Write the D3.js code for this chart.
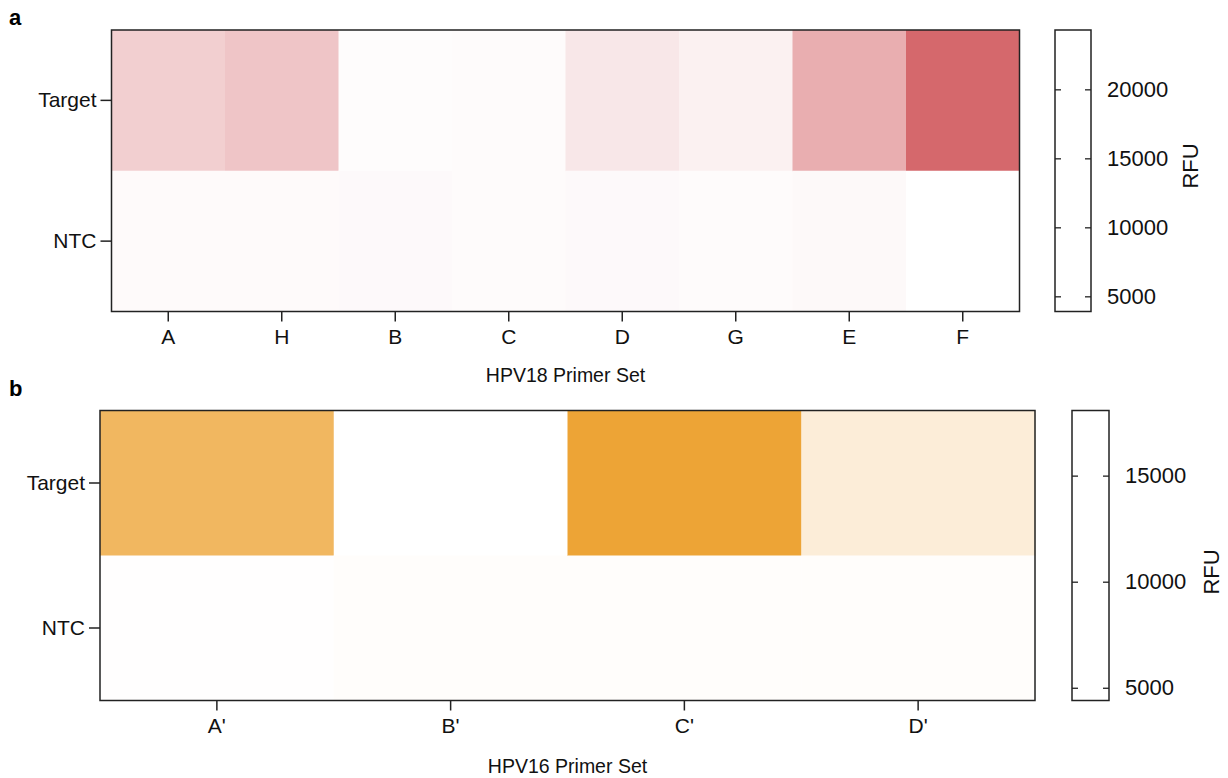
<!DOCTYPE html>
<html>
<head>
<meta charset="utf-8">
<script src="https://cdn.jsdelivr.net/npm/d3@7"></script>
<style>
  html, body { margin: 0; padding: 0; background: #fff; }
  svg { display: block; font-family: "Liberation Sans", Arial, sans-serif; }
</style>
</head>
<body>
<svg width="1228" height="778"></svg>
<script>
// panel a : HPV18
const setsA = ["A", "H", "B", "C", "D", "G", "E", "F"];
const targetA = [10400, 11700, 4300, 4500, 7100, 5800, 14800, 24300];
const ntcA = [4550, 4600, 4650, 4450, 4650, 4500, 4750, 3900];
const rangeA = [3900, 24300];
const ticksA = [5000, 10000, 15000, 20000];

// panel b : HPV16
const setsB = ["A'", "B'", "C'", "D'"];
const targetB = [15200, 4400, 18070, 7050];
const ntcB = [4480, 4650, 4650, 4650];
const rangeB = [4400, 18070];
const ticksB = [5000, 10000, 15000];

const rows = ["Target", "NTC"];

let svg = d3.select("svg");

function heatmap(opt) {
    let g = svg.append("g");
    let x = d3.scaleBand().domain(opt.sets).range([opt.x0, opt.x1]);
    let y = d3.scaleBand().domain(rows).range([opt.y0, opt.y1]);
    let color = d3.scaleLinear()
        .domain(opt.range)
        .range(["#ffffff", opt.hot])
        .interpolate(d3.interpolateRgb);

    let cells = [];
    opt.sets.forEach((s, i) => {
        cells.push({set: s, row: "Target", v: opt.target[i]});
        cells.push({set: s, row: "NTC", v: opt.ntc[i]});
    });

    g.selectAll(".cell")
        .data(cells)
        .enter()
        .append("rect")
        .attr("class", "cell")
        .attr("x", d => x(d.set))
        .attr("y", d => y(d.row))
        .attr("width", x.bandwidth() + 0.5)
        .attr("height", y.bandwidth() + 0.5)
        .attr("fill", d => color(d.v));

    g.append("rect")
        .attr("x", opt.x0).attr("y", opt.y0)
        .attr("width", opt.x1 - opt.x0).attr("height", opt.y1 - opt.y0)
        .attr("fill", "none")
        .attr("stroke", "#222")
        .attr("stroke-width", 1.5);

    let xa = g.append("g")
        .attr("transform", `translate(0,${opt.y1})`)
        .call(d3.axisBottom(x).tickSizeInner(10).tickSizeOuter(0).tickPadding(8));
    let ya = g.append("g")
        .attr("transform", `translate(${opt.x0},0)`)
        .call(d3.axisLeft(y).tickSizeInner(11).tickSizeOuter(0).tickPadding(4));
    [xa, ya].forEach(a => {
        a.select(".domain").remove();
        a.selectAll("line").attr("stroke", "#222").attr("stroke-width", 1.5);
        a.selectAll("text").attr("font-size", 21).attr("fill", "#111")
            .attr("font-family", "Liberation Sans, Arial, sans-serif");
    });

    g.append("text")
        .attr("x", (opt.x0 + opt.x1) / 2)
        .attr("y", opt.titleY)
        .attr("text-anchor", "middle")
        .attr("font-size", 19.5)
        .attr("fill", "#111")
        .text(opt.title);

    g.append("text")
        .attr("x", 9)
        .attr("y", opt.labelY)
        .attr("font-size", 22)
        .attr("font-weight", "bold")
        .attr("fill", "#000")
        .text(opt.label);

    // colorbar (drawn empty, as in the source figure)
    let cb = opt.cb;
    let cy = d3.scaleLinear().domain(opt.range).range([cb.y1, cb.y0]);
    g.append("rect")
        .attr("x", cb.x0).attr("y", cb.y0)
        .attr("width", cb.x1 - cb.x0).attr("height", cb.y1 - cb.y0)
        .attr("fill", "#fff")
        .attr("stroke", "#222")
        .attr("stroke-width", 1.5);
    let left = g.append("g")
        .attr("transform", `translate(${cb.x0},0)`)
        .call(d3.axisLeft(cy).tickValues(opt.ticks).tickSizeInner(-6).tickSizeOuter(0).tickFormat(""));
    let right = g.append("g")
        .attr("transform", `translate(${cb.x1},0)`)
        .call(d3.axisRight(cy).tickValues(opt.ticks).tickSizeInner(-6).tickSizeOuter(0)
            .tickPadding(16).tickFormat(d3.format("d")));
    [left, right].forEach(a => {
        a.select(".domain").remove();
        a.selectAll("line").attr("stroke", "#222").attr("stroke-width", 1.3);
        a.selectAll("text").attr("font-size", 22).attr("fill", "#111")
            .attr("font-family", "Liberation Sans, Arial, sans-serif");
    });
    g.append("text")
        .attr("transform", `translate(${cb.labelX},${cb.labelY}) rotate(-90)`)
        .attr("text-anchor", "middle")
        .attr("font-size", 22)
        .attr("fill", "#111")
        .text("RFU");
}

heatmap({
    sets: setsA, target: targetA, ntc: ntcA, range: rangeA, ticks: ticksA,
    hot: "#d5686c",
    x0: 111.5, x1: 1019.5, y0: 30, y1: 311.5,
    title: "HPV18 Primer Set", titleY: 382, label: "a", labelY: 25,
    cb: {x0: 1055, x1: 1091, y0: 30, y1: 311.5, labelX: 1198, labelY: 166}
});

heatmap({
    sets: setsB, target: targetB, ntc: ntcB, range: rangeB, ticks: ticksB,
    hot: "#eda436",
    x0: 100, x1: 1035, y0: 410.5, y1: 700.5,
    title: "HPV16 Primer Set", titleY: 773, label: "b", labelY: 396,
    cb: {x0: 1072, x1: 1109, y0: 410.5, y1: 700.5, labelX: 1219, labelY: 572}
});
</script>
</body>
</html>
